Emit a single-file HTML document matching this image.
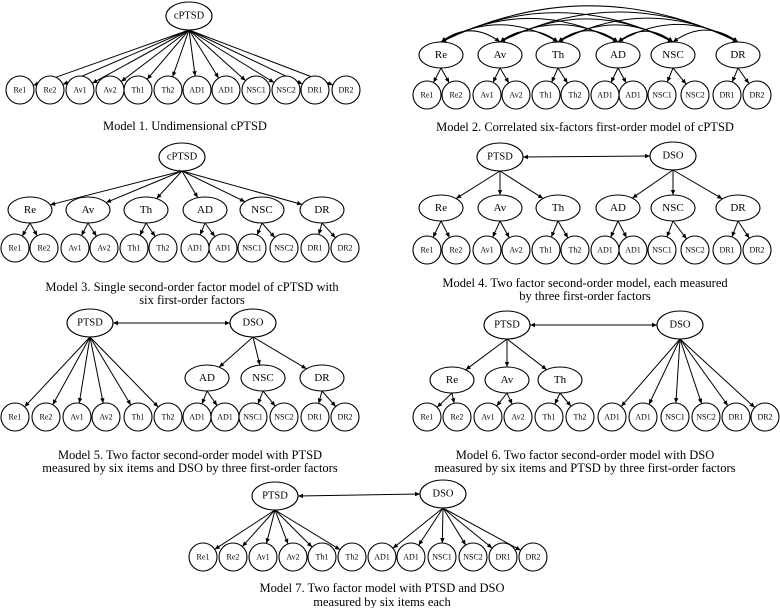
<!DOCTYPE html>
<html><head><meta charset="utf-8">
<style>
html,body{margin:0;padding:0;background:#fff;}
svg{display:block;}
text{font-family:"Liberation Serif",serif;fill:#000;text-anchor:middle;dominant-baseline:central;}
.t{font-size:10.5px}.f{font-size:11px}.l{font-size:8px}.c{font-size:12.5px}
</style></head><body>
<svg id="sv" width="780" height="608" viewBox="0 0 780 608" xmlns="http://www.w3.org/2000/svg">
<g id="E" stroke="#000" stroke-width="1" fill="none"></g>
<g id="H" fill="#000" stroke="none"></g>
<g id="S" stroke="#000" stroke-width="1.1" fill="#fff"></g>

<g id="m1">
<text class="t" x="189" y="16">cPTSD</text>
<text class="l" x="20" y="90">Re1</text><text class="l" x="50" y="90">Re2</text><text class="l" x="80" y="90">Av1</text><text class="l" x="110" y="90">Av2</text><text class="l" x="138" y="90">Th1</text><text class="l" x="168" y="90">Th2</text><text class="l" x="197" y="90">AD1</text><text class="l" x="226" y="90">AD1</text><text class="l" x="256" y="90">NSC1</text><text class="l" x="286" y="90">NSC2</text><text class="l" x="315" y="90">DR1</text><text class="l" x="346" y="90">DR2</text>
</g>
<text class="c" x="185" y="126">Model 1. Undimensional cPTSD</text>

<g id="m2">
<text class="f" x="441" y="55">Re</text><text class="f" x="500" y="55">Av</text><text class="f" x="558" y="55">Th</text><text class="f" x="618" y="55">AD</text><text class="f" x="673" y="55">NSC</text><text class="f" x="738" y="55">DR</text>
<text class="l" x="427" y="95">Re1</text><text class="l" x="456" y="95">Re2</text><text class="l" x="487" y="95">Av1</text><text class="l" x="516" y="95">Av2</text><text class="l" x="546" y="95">Th1</text><text class="l" x="575" y="95">Th2</text><text class="l" x="605" y="95">AD1</text><text class="l" x="633" y="95">AD1</text><text class="l" x="662" y="95">NSC1</text><text class="l" x="695" y="95">NSC2</text><text class="l" x="727" y="95">DR1</text><text class="l" x="757" y="95">DR2</text>
</g>
<text class="c" x="585" y="127">Model 2. Correlated six-factors first-order model of cPTSD</text>

<g id="m3">
<text class="t" x="182" y="157">cPTSD</text>
<text class="f" x="30" y="210">Re</text><text class="f" x="88" y="210">Av</text><text class="f" x="146" y="210">Th</text><text class="f" x="205" y="210">AD</text><text class="f" x="262" y="210">NSC</text><text class="f" x="322" y="210">DR</text>
<text class="l" x="15" y="248">Re1</text><text class="l" x="44" y="248">Re2</text><text class="l" x="75" y="248">Av1</text><text class="l" x="104" y="248">Av2</text><text class="l" x="134" y="248">Th1</text><text class="l" x="163" y="248">Th2</text><text class="l" x="195" y="248">AD1</text><text class="l" x="223" y="248">AD1</text><text class="l" x="252" y="248">NSC1</text><text class="l" x="284" y="248">NSC2</text><text class="l" x="315" y="248">DR1</text><text class="l" x="345" y="248">DR2</text>
</g>
<text class="c" x="192" y="287">Model 3. Single second-order factor model of cPTSD with</text>
<text class="c" x="192" y="300">six first-order factors</text>

<g id="m4">
<text class="t" x="500" y="157">PTSD</text><text class="t" x="673" y="156">DSO</text>
<text class="f" x="441" y="208">Re</text><text class="f" x="500" y="208">Av</text><text class="f" x="558" y="208">Th</text><text class="f" x="618" y="208">AD</text><text class="f" x="673" y="208">NSC</text><text class="f" x="738" y="208">DR</text>
<text class="l" x="427" y="250">Re1</text><text class="l" x="456" y="250">Re2</text><text class="l" x="487" y="250">Av1</text><text class="l" x="516" y="250">Av2</text><text class="l" x="546" y="250">Th1</text><text class="l" x="575" y="250">Th2</text><text class="l" x="605" y="250">AD1</text><text class="l" x="633" y="250">AD1</text><text class="l" x="662" y="250">NSC1</text><text class="l" x="695" y="250">NSC2</text><text class="l" x="727" y="250">DR1</text><text class="l" x="757" y="250">DR2</text>
</g>
<text class="c" x="585" y="283">Model 4. Two factor second-order model, each measured</text>
<text class="c" x="585" y="296">by three first-order factors</text>

<g id="m5">
<text class="t" x="90" y="323">PTSD</text><text class="t" x="253" y="323">DSO</text>
<text class="f" x="207" y="378">AD</text><text class="f" x="263" y="378">NSC</text><text class="f" x="322" y="378">DR</text>
<text class="l" x="15" y="417">Re1</text><text class="l" x="46" y="417">Re2</text><text class="l" x="77" y="417">Av1</text><text class="l" x="106" y="417">Av2</text><text class="l" x="138" y="417">Th1</text><text class="l" x="168" y="417">Th2</text><text class="l" x="197" y="417">AD1</text><text class="l" x="225" y="417">AD1</text><text class="l" x="253" y="417">NSC1</text><text class="l" x="284" y="417">NSC2</text><text class="l" x="315" y="417">DR1</text><text class="l" x="345" y="417">DR2</text>
</g>
<text class="c" x="190" y="455">Model 5. Two factor second-order model with PTSD</text>
<text class="c" x="190" y="468">measured by six items and DSO by three first-order factors</text>

<g id="m6">
<text class="t" x="507" y="325">PTSD</text><text class="t" x="680" y="325">DSO</text>
<text class="f" x="452" y="380">Re</text><text class="f" x="507" y="380">Av</text><text class="f" x="560" y="380">Th</text>
<text class="l" x="427" y="417">Re1</text><text class="l" x="457" y="417">Re2</text><text class="l" x="488" y="417">Av1</text><text class="l" x="518" y="417">Av2</text><text class="l" x="549" y="417">Th1</text><text class="l" x="580" y="417">Th2</text><text class="l" x="612" y="417">AD1</text><text class="l" x="643" y="417">AD1</text><text class="l" x="675" y="417">NSC1</text><text class="l" x="706" y="417">NSC2</text><text class="l" x="736" y="417">DR1</text><text class="l" x="765" y="417">DR2</text>
</g>
<text class="c" x="585" y="455">Model 6. Two factor second-order model with DSO</text>
<text class="c" x="585" y="468">measured by six items and PTSD by three first-order factors</text>

<g id="m7">
<text class="t" x="275" y="496">PTSD</text><text class="t" x="443" y="494">DSO</text>
<text class="l" x="203" y="557">Re1</text><text class="l" x="233" y="557">Re2</text><text class="l" x="263" y="557">Av1</text><text class="l" x="293" y="557">Av2</text><text class="l" x="322" y="557">Th1</text><text class="l" x="352" y="557">Th2</text><text class="l" x="382" y="557">AD1</text><text class="l" x="411" y="557">AD1</text><text class="l" x="442" y="557">NSC1</text><text class="l" x="473" y="557">NSC2</text><text class="l" x="503" y="557">DR1</text><text class="l" x="533" y="557">DR2</text>
</g>
<text class="c" x="382" y="588">Model 7. Two factor model with PTSD and DSO</text>
<text class="c" x="382" y="602">measured by six items each</text>
</svg>
<script>
(function(){
var NS="http://www.w3.org/2000/svg";
var E=document.getElementById("E"),H=document.getElementById("H"),S=document.getElementById("S");
function mk(t,a,p){var e=document.createElementNS(NS,t);for(var k in a)e.setAttribute(k,a[k]);p.appendChild(e);return e;}
function nodes(id){var ts=document.getElementById(id).getElementsByTagName("text"),r=[];
for(var i=0;i<ts.length;i++){var c=ts[i].getAttribute("class"),x=+ts[i].getAttribute("x"),y=+ts[i].getAttribute("y");
var n={x:x,y:y,c:c};if(c=="l"){n.rx=14;n.ry=14;}else if(c=="f"){n.rx=22;n.ry=13;}else{n.rx=23;n.ry=14;}
r.push(n);
if(c=="l")mk("circle",{cx:x,cy:y,r:14},S);else mk("ellipse",{cx:x,cy:y,rx:n.rx,ry:n.ry},S);}
return r;}
function head(x,y,ux,uy){var L=5,W=2.2;
mk("polygon",{points:x+","+y+" "+(x-ux*L-uy*W)+","+(y-uy*L+ux*W)+" "+(x-ux*L+uy*W)+","+(y-uy*L-ux*W)},H);}
function arrow(x1,y1,x2,y2,both){mk("line",{x1:x1,y1:y1,x2:x2,y2:y2},E);
var dx=x2-x1,dy=y2-y1,d=Math.sqrt(dx*dx+dy*dy),ux=dx/d,uy=dy/d;head(x2,y2,ux,uy);if(both)head(x1,y1,-ux,-uy);}
function fan(N,p,cs){var P=N[p],sx=P.x,sy=P.y+P.ry;
cs.forEach(function(ci){var C=N[ci],dx=C.x-sx,dy=C.y-sy,t=1/Math.sqrt(Math.pow(dx/C.rx,2)+Math.pow(dy/C.ry,2));
arrow(sx,sy,C.x-dx*t,C.y-dy*t);});}
function rng(a,b){var r=[];for(var i=a;i<=b;i++)r.push(i);return r;}
function dbl(N,a,b){var A=N[a],B=N[b];arrow(A.x+A.rx,A.y,B.x-B.rx,B.y,true);}
var N;
N=nodes("m1");fan(N,0,rng(1,12));
N=nodes("m2");for(var i=0;i<6;i++)fan(N,i,[6+2*i,7+2*i]);
for(var i=0;i<6;i++)for(var j=i+1;j<6;j++){var A=N[i],B=N[j],ty=A.y-A.ry,dist=B.x-A.x,h=5+0.105*dist,cx=(A.x+B.x)/2,cy=ty-2*h;
mk("path",{d:"M"+A.x+","+ty+" Q"+cx+","+cy+" "+B.x+","+ty},E);
var ux=A.x-cx,uy=ty-cy,d=Math.sqrt(ux*ux+uy*uy);head(A.x,ty,ux/d,uy/d);
ux=B.x-cx;d=Math.sqrt(ux*ux+uy*uy);head(B.x,ty,ux/d,uy/d);}
N=nodes("m3");fan(N,0,rng(1,6));for(var i=0;i<6;i++)fan(N,1+i,[7+2*i,8+2*i]);
N=nodes("m4");fan(N,0,[2,3,4]);fan(N,1,[5,6,7]);for(var i=0;i<6;i++)fan(N,2+i,[8+2*i,9+2*i]);dbl(N,0,1);
N=nodes("m5");fan(N,0,rng(5,10));fan(N,1,[2,3,4]);for(var i=0;i<3;i++)fan(N,2+i,[11+2*i,12+2*i]);dbl(N,0,1);
N=nodes("m6");fan(N,0,[2,3,4]);for(var i=0;i<3;i++)fan(N,2+i,[5+2*i,6+2*i]);fan(N,1,rng(11,16));dbl(N,0,1);
N=nodes("m7");fan(N,0,rng(2,7));fan(N,1,rng(8,13));dbl(N,0,1);
})();
</script>
</body></html>
